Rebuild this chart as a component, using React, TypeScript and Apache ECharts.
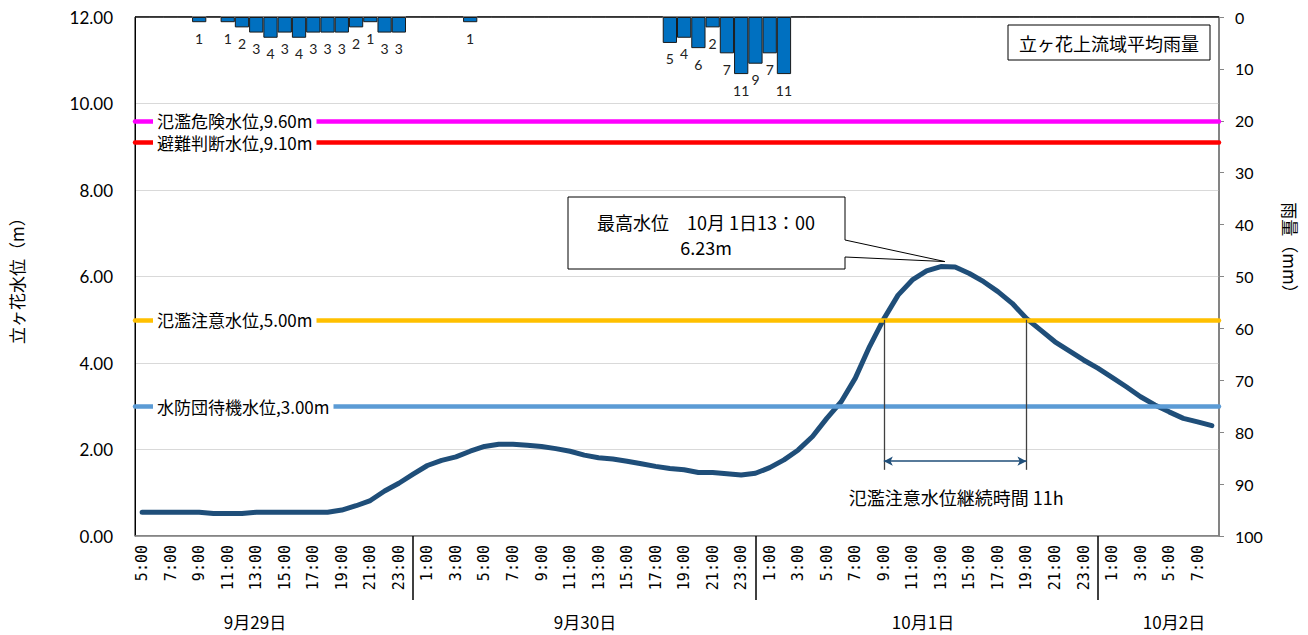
import React, { useEffect, useRef } from 'react';
import * as echarts from 'echarts';

// ---- categories ----
const dayNames = ['9月29日', '9月30日', '10月1日', '10月2日'];
const dayFirstHour = [5, 1, 1, 1];
const dayLastHour = [24, 24, 24, 8];

// ---- rainfall (mm/h), one value per hour ----
const rainfall = [
  // 9/29 5:00 - 24:00
  0, 0, 0, 0, 1, 0, 1, 2, 3, 4, 3, 4, 3, 3, 3, 2, 1, 3, 3, 0,
  // 9/30 1:00 - 24:00
  0, 0, 0, 1, 0, 0, 0, 0, 0, 0, 0, 0, 0, 0, 0, 0, 0, 5, 4, 6, 2, 7, 11, 9,
  // 10/1 1:00 - 24:00
  7, 11, 0, 0, 0, 0, 0, 0, 0, 0, 0, 0, 0, 0, 0, 0, 0, 0, 0, 0, 0, 0, 0, 0,
  // 10/2 1:00 - 8:00
  0, 0, 0, 0, 0, 0, 0, 0,
];

// ---- water level (m) ----
const waterLevel = [
  // 9/29 5:00 - 24:00
  0.55, 0.55, 0.55, 0.55, 0.55, 0.52, 0.52, 0.52, 0.55, 0.55,
  0.55, 0.55, 0.55, 0.55, 0.6, 0.7, 0.82, 1.04, 1.22, 1.43,
  // 9/30 1:00 - 24:00
  1.63, 1.75, 1.83, 1.96, 2.07, 2.12, 2.12, 2.1, 2.07, 2.02, 1.96, 1.87,
  1.81, 1.78, 1.73, 1.67, 1.61, 1.56, 1.53, 1.47, 1.47, 1.44, 1.41, 1.45,
  // 10/1 1:00 - 24:00
  1.58, 1.76, 1.99, 2.3, 2.72, 3.1, 3.65, 4.38, 5.02, 5.57, 5.92, 6.13,
  6.23, 6.22, 6.07, 5.88, 5.65, 5.38, 5.03, 4.76, 4.49, 4.28, 4.07, 3.88,
  // 10/2 1:00 - 8:00
  3.67, 3.45, 3.22, 3.03, 2.87, 2.72, 2.64, 2.55,
];

// ---- reference levels ----
const thresholdNames = ['氾濫危険水位', '避難判断水位', '氾濫注意水位', '水防団待機水位'];
const thresholdValues = [9.6, 9.1, 5.0, 3.0];
const thresholdColors = ['#FF00FF', '#FF0000', '#FFC000', '#5B9BD5'];

// ---- flood-warning duration annotation ----
const durationStart = '10月1日|9:00';
const durationEnd = '10月1日|19:00';
const durationText = '氾濫注意水位継続時間 11h';

const rainSeriesName = '立ヶ花上流域平均雨量';
const levelAxisName = '立ヶ花水位（m）';
const rainAxisName = '雨量（mm）';

const categories: string[] = [];
dayNames.forEach((d, i) => {
  for (let h = dayFirstHour[i]; h <= dayLastHour[i]; h++) categories.push(`${d}|${h}:00`);
});

const FONT_JP = '"Noto Sans CJK JP", "Noto Sans", sans-serif';
const FONT_NUM = 'Lato, "Noto Sans", sans-serif';

export default function App() {
  const ref = useRef<HTMLDivElement>(null);

  useEffect(() => {
    document.body.style.margin = '0';
    if (!ref.current) return;
    const chart = echarts.init(ref.current, null, { renderer: 'svg' });

    const i0 = categories.indexOf(durationStart);
    const i1 = categories.indexOf(durationEnd);
    const floodLevel = thresholdValues[2];

    const option: any = {
      animation: false,
      grid: {
        left: 128, right: 89, top: 17, bottom: 99,
        show: true, borderColor: '#000', borderWidth: 1, backgroundColor: 'transparent',
      },
      xAxis: [
        {
          type: 'category',
          data: categories,
          boundaryGap: true,
          axisLine: { lineStyle: { color: '#868686', width: 1.5 } },
          axisTick: {
            show: true,
            alignWithLabel: true,
            interval: (_i: number, v: string) => v.endsWith('|24:00'),
            length: 64,
            lineStyle: { color: '#000', width: 1.5 },
          },
          axisLabel: {
            interval: 1,
            rotate: 90,
            margin: 9,
            fontFamily: '"DejaVu Sans Mono", monospace',
            fontSize: 15,
            color: '#000',
            formatter: (v: string) => v.split('|')[1],
          },
          splitLine: { show: false },
        },
      ],
      yAxis: [
        {
          type: 'value', min: 0, max: 12, interval: 2, position: 'left',
          name: levelAxisName, nameLocation: 'middle', nameGap: 110,
          nameTextStyle: { fontFamily: FONT_JP, fontSize: 17, color: '#000' },
          axisLine: { show: true, lineStyle: { color: '#000', width: 1 } },
          axisTick: { show: false },
          axisLabel: {
            formatter: (v: number) => v.toFixed(2),
            margin: 22, fontFamily: FONT_NUM, fontSize: 17, color: '#000',
          },
          splitLine: { show: true, lineStyle: { color: '#d9d9d9', width: 1 } },
        },
        {
          type: 'value', min: 0, max: 100, interval: 10, inverse: true, position: 'right',
          axisLine: { show: true, lineStyle: { color: '#868686', width: 1.5 } },
          axisTick: { show: true, length: 5, inside: false, lineStyle: { color: '#868686' } },
          axisLabel: { margin: 16, fontFamily: FONT_NUM, fontSize: 16, color: '#000' },
          splitLine: { show: false },
        },
      ],
      series: [
        {
          type: 'bar',
          name: rainSeriesName,
          xAxisIndex: 0,
          yAxisIndex: 1,
          data: rainfall,
          barCategoryGap: '0%',
          itemStyle: { color: '#0070C0', borderColor: '#1a1a1a', borderWidth: 1 },
          label: {
            show: true, position: 'bottom', distance: 9,
            fontFamily: FONT_NUM, fontSize: 14, color: '#222',
            formatter: (p: any) => (p.value > 0 ? String(p.value) : ''),
          },
          z: 2,
        },
        {
          type: 'line',
          name: '立ヶ花水位',
          xAxisIndex: 0,
          yAxisIndex: 0,
          data: waterLevel,
          symbol: 'none',
          lineStyle: { color: '#1F4E79', width: 5, cap: 'round', join: 'round' },
          z: 3,
          markLine: {
            silent: true,
            symbol: ['none', 'none'],
            data: [
              ...thresholdValues.map((v, i) => ({
                yAxis: v,
                lineStyle: { color: thresholdColors[i], width: 4.5, type: 'solid', cap: 'round' },
                label: {
                  show: true, position: 'insideStart', distance: [18, 0],
                  formatter: `${thresholdNames[i]},${v.toFixed(2)}m`,
                  backgroundColor: '#fff', padding: [0, 4], lineHeight: 16,
                  fontFamily: FONT_JP, fontSize: 17, color: '#000',
                },
              })),
              [
                { coord: [i0, floodLevel], symbol: 'none', lineStyle: { color: '#404040', width: 1.3, type: 'solid' }, label: { show: false } },
                { coord: [i0, 1.53], symbol: 'none' },
              ],
              [
                { coord: [i1, floodLevel], symbol: 'none', lineStyle: { color: '#404040', width: 1.3, type: 'solid' }, label: { show: false } },
                { coord: [i1, 1.53], symbol: 'none' },
              ],
              [
                { coord: [i0, 1.73], symbol: 'arrow', symbolSize: [7, 9], lineStyle: { color: '#1F4E79', width: 1.5, type: 'solid' }, label: { show: false } },
                { coord: [i1, 1.73], symbol: 'arrow', symbolSize: [7, 9] },
              ],
            ],
          },
        },
      ],
    };
    chart.setOption(option);

    const peak = Math.max(...waterLevel);
    const peakIdx = waterLevel.indexOf(peak);
    const tip = chart.convertToPixel({ xAxisIndex: 0, yAxisIndex: 0 }, [peakIdx, peak]) as number[];
    const tipX = tip[0] + 4;
    const tipY = tip[1] - 5;
    const mid = chart.convertToPixel({ xAxisIndex: 0, yAxisIndex: 0 }, [(i0 + i1) / 2, 1.73]) as number[];

    const txt = (x: number, y: number, text: string, size: number, extra: any = {}) => ({
      type: 'text', x, y, z: 100,
      style: {
        text, fill: '#000', fontSize: size, fontFamily: FONT_JP,
        align: 'center', verticalAlign: 'middle', textAlign: 'center', textVerticalAlign: 'middle',
      },
      ...extra,
    });

    const dayLabelX = [255, 585, 923, 1174];

    chart.setOption({
      graphic: [
        {
          type: 'polygon', z: 100,
          shape: {
            points: [[568, 197], [845, 197], [845, 240], [tipX, tipY], [845, 257], [845, 269], [568, 269]],
          },
          style: { fill: '#fff', stroke: '#000', lineWidth: 1 },
        },
        txt(706, 222, '最高水位　10月 1日13：00', 18),
        txt(706, 247, `${peak.toFixed(2)}m`, 18),
        txt(mid[0] + 1, 497, durationText, 18),
        {
          type: 'rect', z: 100,
          shape: { x: 1008, y: 25, width: 202, height: 35 },
          style: { fill: '#fff', stroke: '#000', lineWidth: 1 },
        },
        txt(1109, 43, rainSeriesName, 18),
        txt(1290, 252, rainAxisName, 17, { rotation: -Math.PI / 2 }),
        ...dayNames.map((d, i) => txt(dayLabelX[i], 621, d, 17)),
      ],
    });

    return () => chart.dispose();
  }, []);

  return <div ref={ref} style={{ width: 1308, height: 635 }} />;
}
